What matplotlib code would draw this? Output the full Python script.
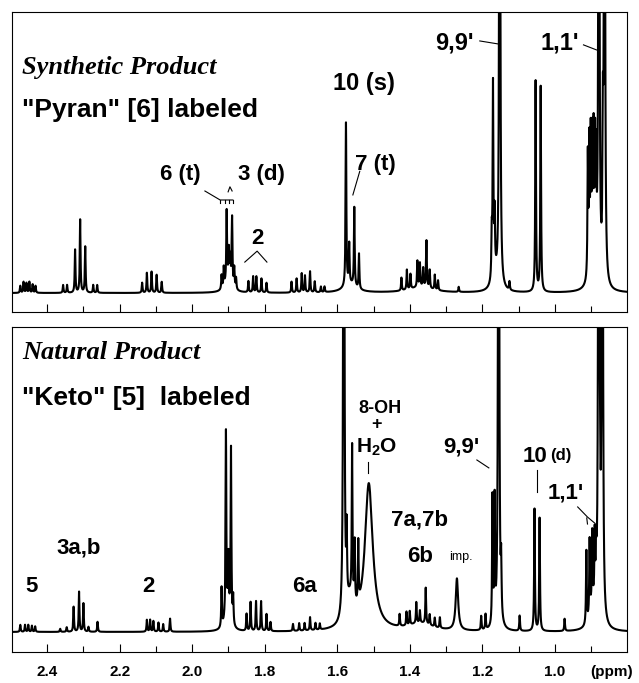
import numpy as np
import matplotlib
matplotlib.use("Agg")
import matplotlib.pyplot as plt
from matplotlib.ticker import MultipleLocator, FixedLocator
from matplotlib.transforms import blended_transform_factory

# ---------------- data (ppm, intensity in % of panel full scale) ----------------
top_ppm = [2.474, 2.465, 2.457, 2.449, 2.440, 2.432,
           2.356, 2.345, 2.323, 2.309, 2.295, 2.273, 2.262,
           2.138, 2.125, 2.112, 2.098, 2.084,
           1.919, 1.913, 1.905, 1.899, 1.895, 1.890, 1.884, 1.879,
           1.845, 1.832, 1.823, 1.809, 1.795,
           1.726, 1.712, 1.698, 1.689, 1.675, 1.662, 1.645, 1.635,
           1.576, 1.567, 1.553, 1.540,
           1.423, 1.408, 1.398, 1.379, 1.372, 1.363, 1.354, 1.345, 1.331, 1.322,
           1.265,
           1.174, 1.1705, 1.166, 1.152, 1.125,
           1.053, 1.039,
           0.909, 0.905, 0.901, 0.897, 0.893, 0.889, 0.886,
           0.8785, 0.8675, 0.863]
top_int = [2.5, 3.9, 3.5, 3.9, 3.0, 2.5,
           2.8, 2.8, 15.3, 26.0, 16.4, 2.8, 2.8,
           3.6, 7.1, 7.5, 6.4, 3.9,
           5.0, 7.0, 25.0, 10.0, 8.0, 24.0, 7.0, 4.0,
           4.0, 5.7, 5.7, 5.0, 3.5,
           3.9, 5.0, 6.8, 6.0, 7.5, 3.9, 2.0, 2.0,
           58.0, 14.0, 28.0, 12.5,
           4.6, 7.1, 5.3, 9.3, 8.4, 6.7, 16.7, 6.5, 5.3, 3.5,
           1.8,
           15.0, 68.0, 20.0, 400.0, 3.0,
           75.0, 73.0,
           43.0, 45.0, 46.0, 44.0, 45.0, 41.0, 35.0,
           400.0, 45.0, 400.0]
top_broad_ppm = [1.900, 1.565, 1.165, 0.895, 1.370]
top_broad_int = [5.0, 3.0, 5.0, 6.0, 2.0]
top_broad_hw = [0.010, 0.020, 0.010, 0.012, 0.040]

bot_ppm = [2.474, 2.461, 2.452, 2.442, 2.433,
           2.364, 2.346, 2.327, 2.312, 2.300, 2.286, 2.261,
           2.125, 2.116, 2.107, 2.093, 2.080, 2.061,
           1.919, 1.907, 1.900, 1.893, 1.887,
           1.850, 1.839, 1.824, 1.810, 1.795, 1.784,
           1.722, 1.705, 1.690, 1.675, 1.660, 1.648,
           1.582, 1.574, 1.559, 1.552, 1.542,
           1.428, 1.409, 1.400, 1.382, 1.372, 1.356, 1.345, 1.331, 1.317,
           1.203, 1.191,
           1.172, 1.166, 1.155, 1.148,
           1.097,
           1.056, 1.042,
           0.973,
           0.913, 0.904, 0.897, 0.890, 0.886,
           0.879, 0.875, 0.869]
bot_int = [2.3, 2.3, 2.3, 2.0, 1.8,
           1.0, 1.5, 8.2, 13.1, 9.3, 1.6, 3.3,
           3.9, 3.9, 3.5, 3.0, 2.5, 4.3,
           13.0, 61.0, 18.0, 57.0, 9.0,
           5.6, 9.5, 9.8, 9.8, 5.6, 3.0,
           2.3, 2.5, 2.5, 4.3, 2.3, 2.0,
           400.0, 22.0, 50.0, 20.0, 20.0,
           3.9, 4.5, 4.5, 6.9, 4.0, 11.8, 3.5, 3.0, 3.5,
           4.6, 5.0,
           42.0, 40.0, 400.0, 17.0,
           5.0,
           40.0, 37.0,
           4.0,
           24.0, 25.0, 24.0, 22.0, 16.0,
           400.0, 18.0, 400.0]
bot_broad_ppm = [1.513, 1.270, 1.902, 1.565, 1.370, 0.895]
bot_broad_int = [48.0, 17.0, 6.0, 8.0, 2.5, 6.0]
bot_broad_hw = [0.013, 0.004, 0.008, 0.012, 0.040, 0.010]

x_ticks = [2.4, 2.2, 2.0, 1.8, 1.6, 1.4, 1.2, 1.0]
x_tick_labels = ["2.4", "2.2", "2.0", "1.8", "1.6", "1.4", "1.2", "1.0"]

LINE_HW = 0.0012
ppm = np.linspace(0.78, 2.52, 40000)


def spectrum(pos, amp, bpos, bamp, bhw):
    y = np.zeros_like(ppm)
    for p, a in zip(pos, amp):
        y += a * LINE_HW**2 / ((ppm - p) ** 2 + LINE_HW**2)
    for p, a, w in zip(bpos, bamp, bhw):
        y += a * w**2 / ((ppm - p) ** 2 + w**2)
    return y


SANS = ["Liberation Sans", "DejaVu Sans"]
SERIF = ["Liberation Serif", "DejaVu Serif"]
plt.rcParams["font.family"] = SANS
plt.rcParams["mathtext.fontset"] = "custom"
plt.rcParams["mathtext.rm"] = "Liberation Sans:bold"
plt.rcParams["mathtext.bf"] = "Liberation Sans:bold"
plt.rcParams["mathtext.it"] = "Liberation Sans:bold"

W, H = 639, 683
fig = plt.figure(figsize=(W / 100, H / 100), dpi=100)
L, R = 12, 627
ax1 = fig.add_axes([L / W, 1 - 312 / H, (R - L) / W, 300 / H])
ax2 = fig.add_axes([L / W, 1 - 652 / H, (R - L) / W, 325 / H])

for ax, pos, amp, bp, ba, bw, ylo in [
    (ax1, top_ppm, top_int, top_broad_ppm, top_broad_int, top_broad_hw, -6.76),
    (ax2, bot_ppm, bot_int, bot_broad_ppm, bot_broad_int, bot_broad_hw, -6.56),
]:
    ax.plot(ppm, spectrum(pos, amp, bp, ba, bw), color="black", lw=1.5)
    ax.set_xlim(2.497, 0.801)
    ax.set_ylim(ylo, 100)
    ax.set_yticks([])
    ax.xaxis.set_major_locator(FixedLocator(x_ticks))
    ax.xaxis.set_minor_locator(MultipleLocator(0.1))
    ax.tick_params(axis="x", which="major", direction="in", length=6, width=0.8)
    ax.tick_params(axis="x", which="minor", direction="in", length=4, width=0.8)
    for s in ax.spines.values():
        s.set_linewidth(0.8)

ax1.set_xticklabels([])
ax2.set_xticklabels(x_tick_labels, fontsize=11, fontweight="bold")
ax2.tick_params(axis="x", which="major", pad=9)
trans = blended_transform_factory(ax2.transData, ax2.transAxes)
ax2.text(0.844, -0.062, "(ppm)", transform=trans, ha="center", va="center",
         fontsize=11, fontweight="bold")

B = dict(fontweight="bold", family=SANS)
lk = dict(color="black", lw=0.8)

# ---- top panel labels ----
ax1.text(2.469, 80.1, "Synthetic Product", family=SERIF, fontstyle="italic",
         fontweight="bold", fontsize=19, ha="left", va="center")
ax1.text(2.469, 65.1, '"Pyran" [6] labeled', fontsize=19, ha="left", va="center", **B)
ax1.text(2.034, 42.0, "6 (t)", fontsize=16, ha="center", va="center", **B)
ax1.text(1.810, 42.0, "3 (d)", fontsize=16, ha="center", va="center", **B)
ax1.plot([1.965, 1.923, 1.888], [36.3, 33.1, 33.1], **lk)
for xp in [1.923, 1.910, 1.899, 1.888]:
    ax1.plot([xp, xp], [33.1, 32.0], **lk)
ax1.plot([1.901, 1.896, 1.890], [36.0, 37.8, 36.3], **lk)
ax1.text(1.821, 19.5, "2", fontsize=16, ha="center", va="center", **B)
ax1.plot([1.855, 1.821, 1.794], [11.0, 14.9, 11.0], **lk)
ax1.text(1.527, 74.7, "10 (s)", fontsize=17, ha="center", va="center", **B)
ax1.text(1.494, 45.6, "7 (t)", fontsize=16, ha="center", va="center", **B)
ax1.plot([1.538, 1.557], [43.3, 34.9], **lk)
ax1.text(1.276, 89.0, "9,9'", fontsize=17, ha="center", va="center", **B)
ax1.plot([1.207, 1.155], [89.7, 88.6], **lk)
ax1.text(0.987, 89.0, "1,1'", fontsize=17, ha="center", va="center", **B)
ax1.plot([0.921, 0.885], [88.3, 86.5], **lk)

# ---- bottom panel labels ----
ax2.text(2.469, 91.8, "Natural Product", family=SERIF, fontstyle="italic",
         fontweight="bold", fontsize=19, ha="left", va="center")
ax2.text(2.469, 76.7, '"Keto" [5]  labeled', fontsize=19, ha="left", va="center", **B)
ax2.text(2.312, 27.5, "3a,b", fontsize=16, ha="center", va="center", **B)
ax2.text(2.444, 14.8, "5", fontsize=16, ha="center", va="center", **B)
ax2.text(2.122, 14.8, "2", fontsize=16, ha="center", va="center", **B)
ax2.text(1.689, 14.8, "6a", fontsize=16, ha="center", va="center", **B)
ax2.text(1.483, 73.4, "8-OH", fontsize=13, ha="center", va="center", **B)
ax2.text(1.491, 67.9, "+", fontsize=13, ha="center", va="center", **B)
ax2.text(1.491, 60.7, r"H$_{2}$O", fontsize=15, ha="center", va="center", **B)
ax2.plot([1.516, 1.516], [55.7, 52.1], **lk)
ax2.text(1.257, 60.7, "9,9'", fontsize=16, ha="center", va="center", **B)
ax2.plot([1.215, 1.182], [56.4, 53.8], **lk)
ax2.text(1.056, 57.4, "10", fontsize=16, ha="center", va="center", **B)
ax2.text(0.984, 58.0, "(d)", fontsize=12, ha="center", va="center", **B)
ax2.plot([1.050, 1.050], [53.1, 45.9], **lk)
ax2.text(0.970, 45.6, "1,1'", fontsize=16, ha="center", va="center", **B)
ax2.plot([0.937, 0.910, 0.890], [41.0, 37.7, 35.7], **lk)
ax2.plot([0.912, 0.910], [37.4, 35.4], **lk)
ax2.text(1.372, 36.7, "7a,7b", fontsize=16, ha="center", va="center", **B)
ax2.text(1.372, 24.6, "6b", fontsize=16, ha="center", va="center", **B)
ax2.text(1.260, 24.6, "imp.", fontsize=9, ha="center", va="center", family=SANS)

fig.savefig("out.png", dpi=100)
